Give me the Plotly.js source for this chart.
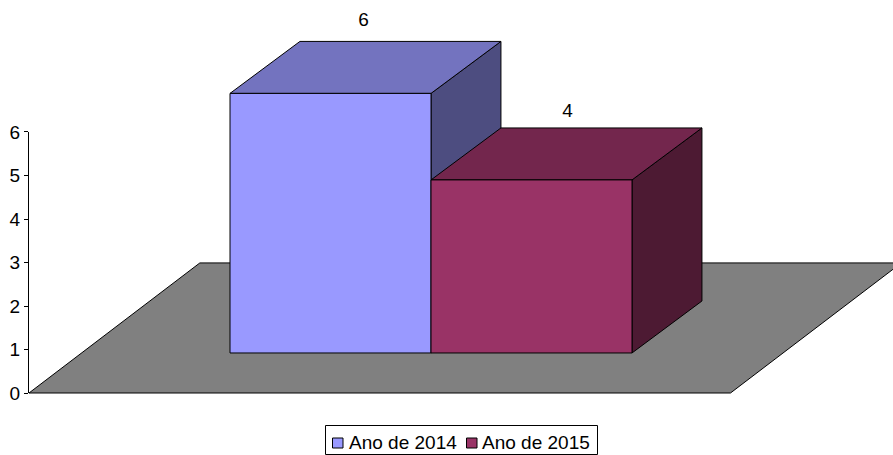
<!DOCTYPE html>
<html><head><meta charset="utf-8">
<script src="https://cdn.plot.ly/plotly-3.0.1.min.js"></script>
<style>html,body{margin:0;padding:0;background:#fff;overflow:hidden}</style>
</head><body><div id="chart" style="width:893px;height:455px"></div>
<script>
const seriesNames = ["Ano de 2014", "Ano de 2015"];
const seriesValues = [6, 4];
const frontColors = ["#9999FF", "#993366"];
const topColors = ["#7373BF", "#73264D"];
const sideColors = ["#4D4D80", "#4D1A33"];
const labelLift = [0.466, 0.355];
const labelNudge = [-0.01, 0.005];
const yTicks = [0, 1, 2, 3, 4, 5, 6];
const floorColor = "#808080";
const W = 893, H = 455, L = 29;
const axisFont = {family: "Liberation Sans, Arial, sans-serif", size: 19, color: "#000"};

// Pseudo-3D geometry in axis units
const barBase = 0.92, valueScale = 0.9945, depthX = 0.348, depthY = 1.195;
const floorW = 3.49, floorDX = 0.85, floorDY = 2.99;

function face(x, y, color) {
  return {x: x, y: y, type: "scatter", mode: "lines", fill: "toself", fillcolor: color,
    line: {color: "#000", width: 1}, hoverinfo: "skip", showlegend: false};
}
const traces = [];
traces.push(face([0, floorW, floorW + floorDX, floorDX, 0], [0, 0, floorDY, floorDY, 0], floorColor));
seriesValues.forEach((v, i) => {
  const l = i + 1, r = i + 2, b = barBase, t = barBase + v * valueScale;
  traces.push(face([r, r + depthX, r + depthX, r, r], [b, b + depthY, t + depthY, t, b], sideColors[i]));
  traces.push(face([l, r, r + depthX, l + depthX, l], [t, t, t + depthY, t + depthY, t], topColors[i]));
  traces.push(face([l, r, r, l, l], [b, b, t, t, b], frontColors[i]));
});
traces.push({
  x: seriesValues.map((v, i) => i + 1.5 + depthX / 2 + labelNudge[i]),
  y: seriesValues.map((v, i) => barBase + v * valueScale + depthY + labelLift[i]),
  text: seriesValues.map(String), type: "scatter", mode: "text", textposition: "middle center",
  textfont: axisFont, hoverinfo: "skip", showlegend: false});

// Legend box drawn to the reference's compact proportions (pixel → paper helpers)
const px = p => (p - L) / (W - L);
const py = p => 1 - p / H;
const legendBox = {x0: 325.5, x1: 597.5, y0: 425.5, y1: 454.5};
const swatchX = [332.5, 466.5], swatchW = 10.5, swatchY = [438, 448], labelX = [349, 482], legendTextY = 442;

const shapes = [
  {type: "line", xref: "paper", yref: "y", x0: px(28.5), x1: px(28.5), y0: 0, y1: 6,
    line: {color: "#000", width: 1}},
  {type: "rect", xref: "paper", yref: "paper", x0: px(legendBox.x0), x1: px(legendBox.x1),
    y0: py(legendBox.y0), y1: py(legendBox.y1), fillcolor: "#fff", line: {color: "#000", width: 1}}
];
const annotations = [];
seriesNames.forEach((n, i) => {
  shapes.push({type: "rect", xref: "paper", yref: "paper", x0: px(swatchX[i]), x1: px(swatchX[i] + swatchW),
    y0: py(swatchY[0]), y1: py(swatchY[1]), fillcolor: frontColors[i], line: {color: "#000", width: 1}});
  annotations.push({text: n, xref: "paper", yref: "paper", x: px(labelX[i]), y: py(legendTextY),
    xanchor: "left", yanchor: "middle", showarrow: false, font: axisFont, borderpad: 0, borderwidth: 0,
    xshift: 0});
});

const layout = {
  width: W, height: H, margin: {l: L, r: 0, t: 0, b: 0},
  paper_bgcolor: "#fff", plot_bgcolor: "#fff",
  xaxis: {range: [0, 4.2985], visible: false, fixedrange: true},
  yaxis: {range: [-1.425, 9.034], showgrid: false, zeroline: false, showline: false,
    tickmode: "array", tickvals: yTicks, ticktext: yTicks.map(String),
    ticks: "outside", ticklen: 4, tickcolor: "#000", tickfont: axisFont, fixedrange: true},
  showlegend: false, shapes: shapes, annotations: annotations
};
Plotly.newPlot("chart", traces, layout, {displayModeBar: false, staticPlot: true});
</script></body></html>
